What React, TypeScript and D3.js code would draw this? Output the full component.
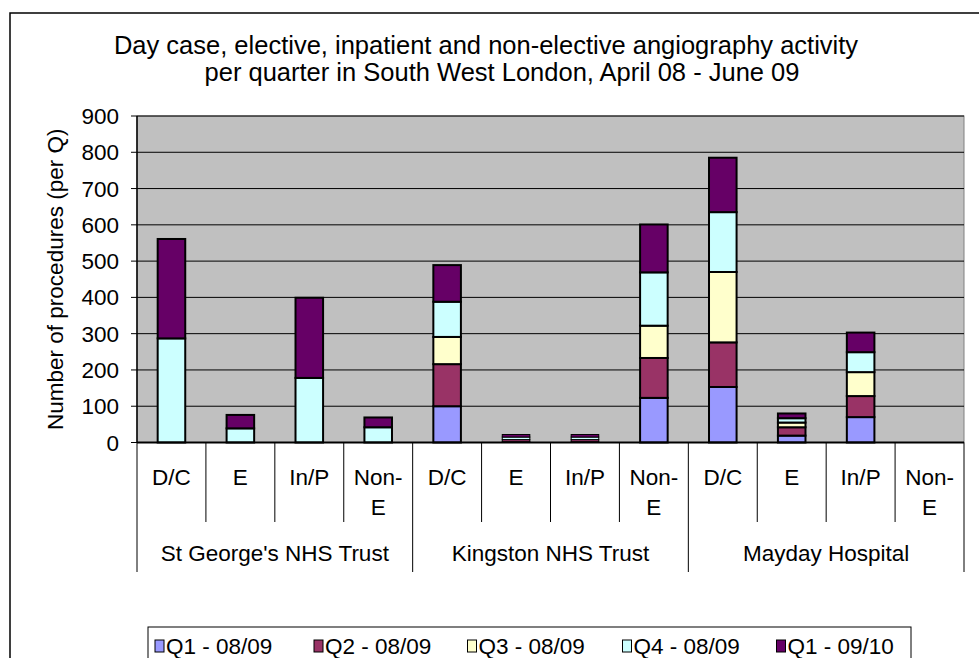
import React from "react";
import * as d3 from "d3";

const groups = ["St George's NHS Trust", "Kingston NHS Trust", "Mayday Hospital"];
const subCategories = [["D/C"], ["E"], ["In/P"], ["Non-", "E"]];
const seriesNames = ["Q1 - 08/09", "Q2 - 08/09", "Q3 - 08/09", "Q4 - 08/09", "Q1 - 09/10"];
const seriesColors = ["#9999FF", "#993366", "#FFFFCC", "#CCFFFF", "#660066"];

// order per group: D/C, E, In/P, Non-E
const q1_0809 = [0, 0, 0, 0, 100, 2, 2, 123, 153, 19, 70, 0];
const q2_0809 = [0, 0, 0, 0, 116, 6, 6, 110, 123, 23, 58, 0];
const q3_0809 = [0, 0, 0, 0, 75, 0, 0, 89, 194, 13, 66, 0];
const q4_0809 = [287, 39, 178, 42, 97, 7, 7, 147, 165, 12, 55, 0];
const q1_0910 = [274, 37, 221, 27, 101, 7, 7, 132, 150, 13, 54, 0];

const yTicks = [0, 100, 200, 300, 400, 500, 600, 700, 800, 900];

const FONT = "'Liberation Sans', Arial, sans-serif";

export default function App() {
  const W = 979, H = 658;
  const left = 137, right = 964, top = 116, bottom = 442.5;
  const keys = groups.flatMap((g, gi) => subCategories.map((_, si) => `${gi}-${si}`));
  const x = d3.scaleBand<string>().domain(keys).range([left, right]).paddingInner(0.6).paddingOuter(0.3);
  const y = d3.scaleLinear().domain([0, 900]).range([bottom, top]);
  const step = x.step();
  const seriesData = [q1_0809, q2_0809, q3_0809, q4_0809, q1_0910];
  const table = keys.map((k, i) => {
    const o: any = { key: k };
    seriesNames.forEach((s, si) => (o[s] = seriesData[si][i]));
    return o;
  });
  const stacked = d3.stack<any>().keys(seriesNames)(table);
  const fs = 22.5;

  const legendX = [155, 314, 467.5, 622.5, 776.5];

  return (
    <svg width={W} height={H} style={{ position: "absolute", left: 0, top: 0, background: "#fff" }} fontFamily={FONT}>
      <rect x={10} y={13} width={1000} height={700} fill="#fff" stroke="#000" strokeWidth={1.5} />
      <text x={486} y={54} textAnchor="middle" fontSize={25.5} fill="#000">
        Day case, elective, inpatient and non-elective angiography activity
      </text>
      <text x={502} y={81} textAnchor="middle" fontSize={25.5} fill="#000">
        per quarter in South West London, April 08 - June 09
      </text>
      {/* plot area */}
      <rect x={left} y={top} width={right - left} height={bottom - top} fill="#C0C0C0" stroke="#808080" strokeWidth={1} />
      {yTicks.map((t) => (
        <line key={t} x1={left} x2={right} y1={y(t)} y2={y(t)} stroke="#000" strokeWidth={1} />
      ))}
      {/* y axis */}
      <line x1={left} x2={left} y1={top} y2={bottom} stroke="#000" strokeWidth={1.5} />
      {yTicks.map((t) => (
        <g key={"t" + t}>
          <line x1={left - 6} x2={left} y1={y(t)} y2={y(t)} stroke="#000" strokeWidth={1} />
          <text x={119} y={y(t)} dy="0.36em" textAnchor="end" fontSize={fs} fill="#000">
            {t}
          </text>
        </g>
      ))}
      <text
        transform={`translate(55,${(top + bottom) / 2}) rotate(-90)`}
        textAnchor="middle"
        dy="0.36em"
        fontSize={fs}
        fill="#000"
      >
        Number of procedures (per Q)
      </text>
      {/* bars */}
      {stacked.map((layer, li) => (
        <g key={layer.key}>
          {layer.map((d, i) =>
            d[1] - d[0] > 0 ? (
              <rect
                key={i}
                x={x(keys[i])!}
                y={y(d[1])}
                width={x.bandwidth()}
                height={y(d[0]) - y(d[1])}
                fill={seriesColors[li]}
                stroke="#000"
                strokeWidth={d[1] - d[0] < 10 ? 1 : 2}
              />
            ) : null
          )}
        </g>
      ))}
      {/* x axis */}
      <line x1={left} x2={right} y1={bottom} y2={bottom} stroke="#000" strokeWidth={2} />
      {keys.map((k, i) => {
        const xs = left + i * step;
        const isGroup = i % 4 === 0;
        return <line key={"v" + i} x1={xs} x2={xs} y1={bottom} y2={isGroup ? 572 : 522} stroke="#000" strokeWidth={1} />;
      })}
      <line x1={right} x2={right} y1={bottom} y2={572} stroke="#000" strokeWidth={1} />
      {keys.map((k, i) => {
        const lines = subCategories[i % 4];
        const cx = x(k)! + x.bandwidth() / 2;
        return (
          <text key={"l" + i} x={cx} y={477} textAnchor="middle" fontSize={fs} fill="#000">
            {lines.map((ln, j) => (
              <tspan key={j} x={cx} y={477 + j * 30} dy="0.36em">
                {ln}
              </tspan>
            ))}
          </text>
        );
      })}
      {groups.map((g, gi) => (
        <text key={g} x={left + (gi * 4 + 2) * step} y={553} dy="0.36em" textAnchor="middle" fontSize={fs} fill="#000">
          {g}
        </text>
      ))}
      {/* legend */}
      <rect x={148} y={627} width={763} height={60} fill="#fff" stroke="#000" strokeWidth={1} />
      {seriesNames.map((s, i) => (
        <g key={s}>
          <rect x={legendX[i]} y={640} width={9} height={12} fill={seriesColors[i]} stroke="#000" strokeWidth={1} />
          <text x={legendX[i] + 11} y={646} dy="0.36em" fontSize={fs} fill="#000">
            {s}
          </text>
        </g>
      ))}
    </svg>
  );
}
